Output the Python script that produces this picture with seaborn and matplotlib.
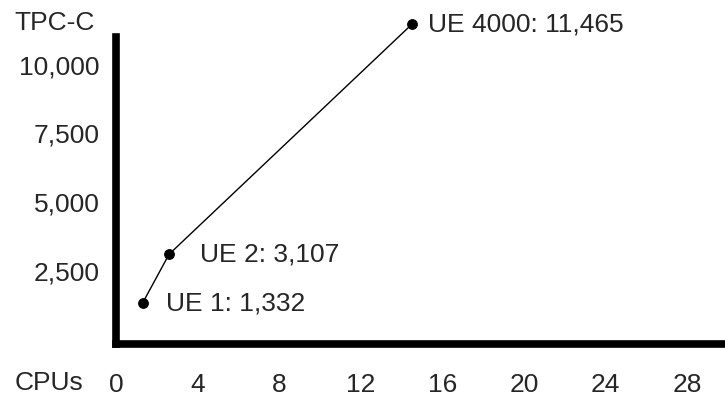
import matplotlib
matplotlib.use('Agg')
import matplotlib.pyplot as plt
import seaborn as sns
import pandas as pd

# Data
systems = ['UE 1', 'UE 2', 'UE 4000']
cpus = [1.3, 2.6, 14.5]
tpcc = [1332, 3107, 11465]
x_ticks = [0, 4, 8, 12, 16, 20, 24, 28]
y_ticks = [2500, 5000, 7500, 10000]

# label offsets (points) to the right of each dot
label_dx = [17, 22, 12]

df = pd.DataFrame({'System': systems, 'CPUs': cpus, 'TPC-C': tpcc})

sns.set_style('white')
plt.rcParams['font.family'] = ['Liberation Sans', 'DejaVu Sans']
fs = 19

fig = plt.figure(figsize=(7.25, 3.99), dpi=100)
ax = fig.add_axes([0.16, 0.138, 0.84, 0.769])

sns.lineplot(data=df, x='CPUs', y='TPC-C', ax=ax, color='black', linewidth=1,
             marker='o', markersize=7, markeredgecolor='black', clip_on=False)

for dx, (_, row) in zip(label_dx, df.iterrows()):
    ax.annotate(f"{row['System']}: {row['TPC-C']:,}", (row['CPUs'], row['TPC-C']),
                xytext=(dx, 0), textcoords='offset points', va='center', ha='left',
                fontsize=fs, annotation_clip=False)

ax.set_xlim(0, 29.85)
ax.set_ylim(-150, 11000)
ax.set_xticks(x_ticks)
ax.set_yticks(y_ticks)
ax.set_yticklabels([f"{v:,}" for v in y_ticks])
ax.tick_params(axis='both', length=0, labelsize=fs)
ax.tick_params(axis='x', pad=21)
ax.tick_params(axis='y', pad=12)
ax.set_xlabel('')
ax.set_ylabel('')

for side in ['top', 'right']:
    ax.spines[side].set_visible(False)
for side in ['left', 'bottom']:
    ax.spines[side].set_linewidth(5.5)
    ax.spines[side].set_color('black')

fig.text(0.02, 0.942, 'TPC-C', fontsize=fs, va='center', ha='left')
fig.text(0.02, 0.04, 'CPUs', fontsize=fs, va='center', ha='left')

fig.savefig('out.png', dpi=100)
